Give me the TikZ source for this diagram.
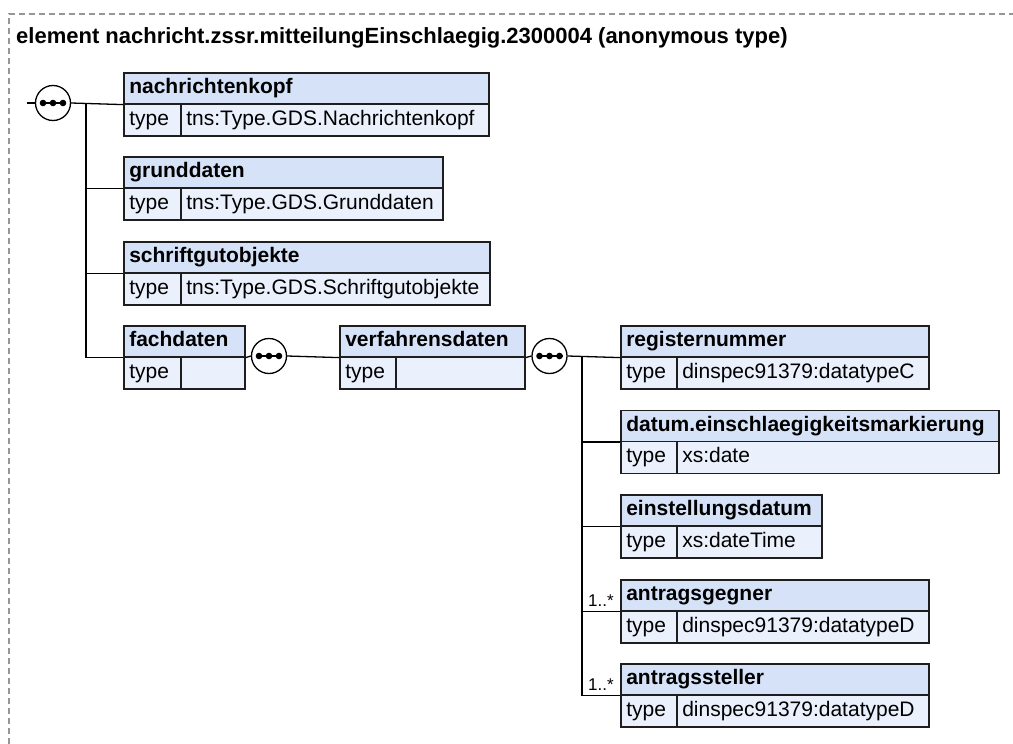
\documentclass[tikz,border=0pt]{standalone}
\usepackage{fontspec}
\setmainfont{Liberation Sans}
\definecolor{hdrc}{RGB}{214,226,247}
\definecolor{rowc}{RGB}{234,240,252}
\definecolor{edgec}{RGB}{30,30,30}
\definecolor{framec}{RGB}{150,150,150}
\tikzset{
  boxbase/.style={draw=edgec, line width=1.6pt, rectangle, inner xsep=5.5pt, inner ysep=0pt,
    align=left, text height=15pt, text depth=4pt, font=\fontsize{21}{25}\selectfont},
  hdrbox/.style={boxbase, fill=hdrc, minimum height=31pt, font=\fontsize{21}{25}\selectfont\bfseries},
  rowbox/.style={boxbase, fill=rowc, minimum height=32pt},
  conn/.style={draw=black, line width=1.3pt},
  seqc/.style={circle, draw=black, fill=white, line width=1.3pt, minimum size=35pt, inner sep=0pt},
  multlabel/.style={anchor=base west, inner sep=0pt, font=\fontsize{17}{20}\selectfont},
  frame/.style={draw=framec, line width=1.2pt, dash pattern=on 6pt off 4pt}
}
\newcommand\elembox[7]{%
  \pgfmathsetmacro\wA{#5-#2-11}%
  \pgfmathsetmacro\wB{#4-#2-11}%
  \pgfmathsetmacro\wC{#5-#4-11}%
  \node[hdrbox, text width=\wA pt, anchor=north west] (#1) at (#2,#3) {#6};
  \node[rowbox, text width=\wB pt, anchor=north west] (#1-t) at (#2,#3+31) {type};
  \node[rowbox, text width=\wC pt, anchor=north west] (#1-v) at (#4,#3+31) {#7};
}
\newcommand\seqdots[1]{%
  \draw[line width=1.4pt] ([xshift=-13pt]#1.center) -- ([xshift=13pt]#1.center);
  \foreach \dx in {-10,0,10} \fill ([xshift=\dx pt]#1.center) circle (3.3);
}
\begin{document}
\begin{tikzpicture}[x=1pt,y=-1pt]
\useasboundingbox (0,0) rectangle (1013,744);
\draw[frame] (9,744) -- (9,14) -- (1013,14);
\node[anchor=base west, inner sep=0pt, font=\fontsize{22}{26}\selectfont\bfseries] (title) at (16,43)
  {element nachricht.zssr.mitteilungEinschlaegig.2300004 (anonymous type)};

% elements
\elembox{nk}{123}{72}{180}{488}{nachrichtenkopf}{tns:Type.GDS.Nachrichtenkopf}
\elembox{gd}{123}{156}{180}{442}{grunddaten}{tns:Type.GDS.Grunddaten}
\elembox{sg}{123}{241}{180}{489}{schriftgutobjekte}{tns:Type.GDS.Schriftgutobjekte}
\elembox{fd}{123}{325}{180}{244}{fachdaten}{}
\elembox{vd}{339}{325}{395}{524}{verfahrensdaten}{}
\elembox{rn}{620}{325}{676}{928}{registernummer}{dinspec91379:datatypeC}
\elembox{dt}{620}{409.5}{676}{998}{datum.einschlaegigkeitsmarkierung}{xs:date}
\elembox{es}{620}{494}{676}{821}{einstellungsdatum}{xs:dateTime}
\elembox{ag}{620}{579}{676}{928}{antragsgegner}{dinspec91379:datatypeD}
\elembox{as}{620}{663}{676}{928}{antragssteller}{dinspec91379:datatypeD}

% sequence compositors
\coordinate (start) at (27,103);
\coordinate (t0) at (86,103);
\coordinate (t1) at (582,356);
\node[seqc] (c0) at (53,103) {};
\node[seqc] (c1) at (269,356) {};
\node[seqc] (c2) at (549.5,356) {};

\draw[conn] (start) -- (c0.west);
\draw[conn] (c0.east) -- (nk.south west);
\draw[conn] (t0) |- (gd.south west);
\draw[conn] (t0) |- (sg.south west);
\draw[conn] (t0) |- (fd.south west);
\draw[conn] (fd.south east) -- (c1.west);
\draw[conn] (c1.east) -- (vd.south west);
\draw[conn] (vd.south east) -- (c2.west);
\draw[conn] (c2.east) -- (rn.south west);
\draw[conn] (t1) |- (dt.south west);
\draw[conn] (t1) |- (es.south west);
\draw[conn] (t1) |- (ag.south west);
\draw[conn] (t1) |- (as.south west);

\seqdots{c0}
\seqdots{c1}
\seqdots{c2}

\node[multlabel] (m1) at (588,606.5) {1..*};
\node[multlabel] (m2) at (588,690.5) {1..*};
\end{tikzpicture}
\end{document}
